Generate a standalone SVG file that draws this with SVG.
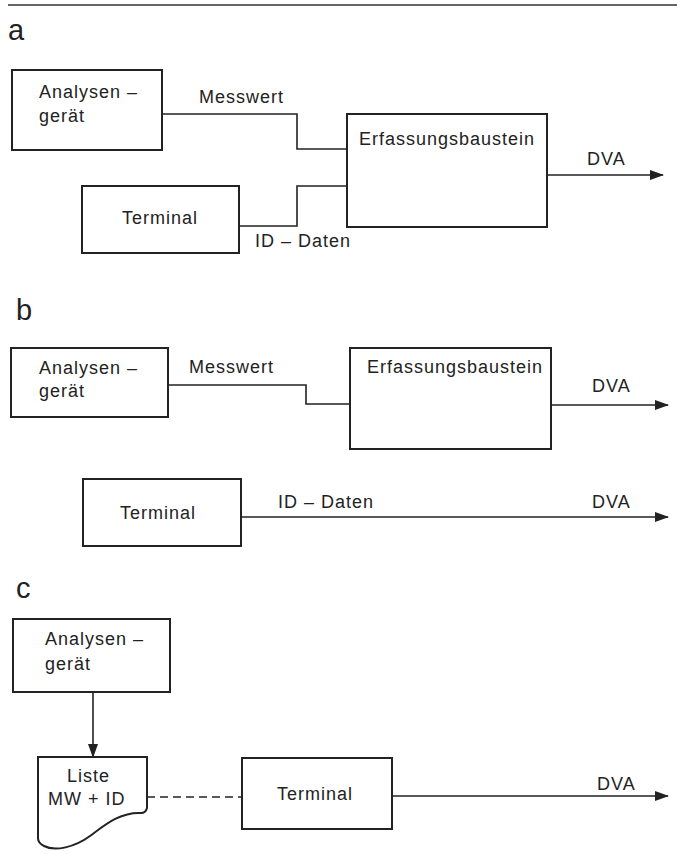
<svg xmlns="http://www.w3.org/2000/svg" width="677" height="854" viewBox="0 0 677 854">
<style>
  .box { fill: #fff; stroke: #222; stroke-width: 2; }
  .ln { fill: none; stroke: #222; stroke-width: 1.6; }
  .dash { fill: none; stroke: #222; stroke-width: 1.6; stroke-dasharray: 8 5; }
  .t { font-family: "Liberation Sans", Arial, sans-serif; font-size: 18px; letter-spacing: 1px; fill: #222; }
  .lab { font-family: "Liberation Sans", Arial, sans-serif; font-size: 29px; fill: #222; }
</style>
<defs>
  <marker id="arr" markerUnits="userSpaceOnUse" markerWidth="14" markerHeight="10" refX="13" refY="5" orient="auto">
    <path d="M0,0 L14,5 L0,10 Z" fill="#222"/>
  </marker>
</defs>
<rect width="677" height="854" fill="#fff"/>
<line x1="8" y1="5" x2="677" y2="5" stroke="#333" stroke-width="1.5"/>

<text class="lab" x="8" y="40">a</text>
<text class="lab" x="16" y="320">b</text>
<text class="lab" x="16" y="598">c</text>

<g id="connectors">
  <polyline class="ln" points="162,114 297,114 297,149 347,149"/>
  <polyline class="ln" points="239,226 297,226 297,186 347,186"/>
  <line class="ln" x1="547" y1="175" x2="663" y2="175" marker-end="url(#arr)"/>
  <text class="t" x="199" y="103">Messwert</text>
  <text class="t" x="255" y="247">ID – Daten</text>
  <text class="t" x="587" y="165">DVA</text>

  <polyline class="ln" points="168,385 306,385 306,404 350,404"/>
  <line class="ln" x1="551" y1="405" x2="668" y2="405" marker-end="url(#arr)"/>
  <line class="ln" x1="241" y1="517" x2="668" y2="517" marker-end="url(#arr)"/>
  <text class="t" x="189" y="373">Messwert</text>
  <text class="t" x="592" y="392">DVA</text>
  <text class="t" x="278" y="508">ID – Daten</text>
  <text class="t" x="592" y="508">DVA</text>

  <line class="ln" x1="93" y1="692" x2="93" y2="757" marker-end="url(#arr)"/>
  <line class="dash" x1="147" y1="797" x2="242" y2="797"/>
  <line class="ln" x1="392" y1="796" x2="668" y2="796" marker-end="url(#arr)"/>
  <text class="t" x="597" y="790">DVA</text>
</g>

<g id="a-analysen">
  <rect class="box" x="12" y="70" width="150" height="80"/>
  <text class="t" x="39" y="98">Analysen –</text>
  <text class="t" x="39" y="122">gerät</text>
</g>
<g id="a-erfassung">
  <rect class="box" x="347" y="114" width="200" height="113"/>
  <text class="t" x="359" y="145">Erfassungsbaustein</text>
</g>
<g id="a-terminal">
  <rect class="box" x="82" y="186" width="157" height="67"/>
  <text class="t" x="122" y="224">Terminal</text>
</g>

<g id="b-analysen">
  <rect class="box" x="11" y="348" width="157" height="69"/>
  <text class="t" x="39" y="374">Analysen –</text>
  <text class="t" x="39" y="397">gerät</text>
</g>
<g id="b-erfassung">
  <rect class="box" x="350" y="348" width="201" height="101"/>
  <text class="t" x="367" y="373">Erfassungsbaustein</text>
</g>
<g id="b-terminal">
  <rect class="box" x="83" y="479" width="158" height="67"/>
  <text class="t" x="120" y="519">Terminal</text>
</g>

<g id="c-analysen">
  <rect class="box" x="13" y="619" width="157" height="73"/>
  <text class="t" x="45" y="645">Analysen –</text>
  <text class="t" x="45" y="670">gerät</text>
</g>
<g id="c-liste">
  <path class="box" d="M38,757 H147 V808 C146,812 144,813 141,813 C120,812 105,825 90,836 C75,847 55,852 44,846 C40,844 38,842 38,838 Z"/>
  <text class="t" x="67" y="782">Liste</text>
  <text class="t" x="48" y="805">MW + ID</text>
</g>
<g id="c-terminal">
  <rect class="box" x="242" y="758" width="150" height="71"/>
  <text class="t" x="277" y="800">Terminal</text>
</g>
</svg>
